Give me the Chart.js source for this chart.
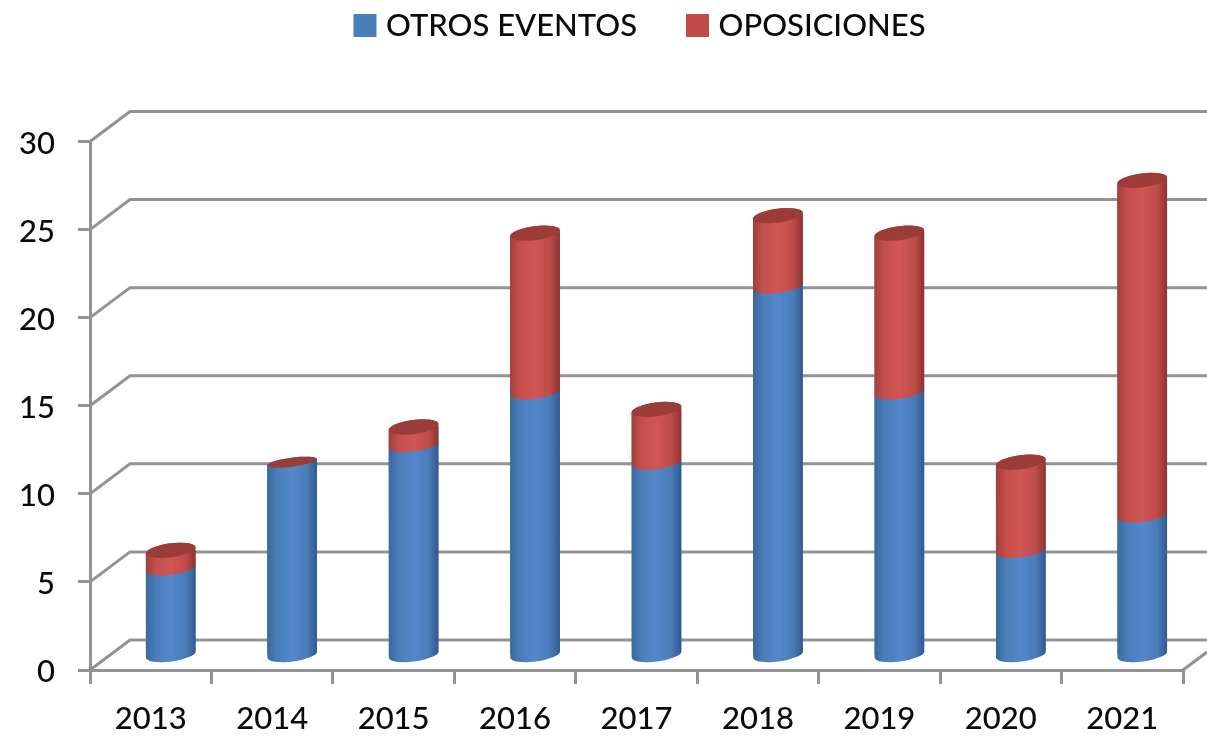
<!DOCTYPE html>
<html>
<head>
<meta charset="utf-8">
<style>
  html, body { margin: 0; padding: 0; background: #fff; overflow: hidden; }
  canvas { display: block; filter: blur(0.5px); }
</style>
</head>
<body>
<canvas id="grafica" width="1207" height="736"></canvas>
<script src="https://cdn.jsdelivr.net/npm/chart.js@4"></script>
<script>
const anios = ['2013', '2014', '2015', '2016', '2017', '2018', '2019', '2020', '2021'];
const otrosEventos = [5, 11, 12, 15, 11, 21, 15, 6, 8];
const oposiciones = [1, 0, 1, 9, 3, 4, 9, 5, 19];

const AZUL = ['#3a689f', '#4a7db9', '#5288cb', '#4a7cb8', '#2f5a8e'];
const ROJO = ['#a23e3b', '#c44f4c', '#d05653', '#bd4c49', '#8b3432'];
const LEYENDA = ['#4a7ebb', '#be4b48'];
const GRIS = '#939393';
const TEXTO = '#0a0a0a';
const FUENTE = { family: 'Lato', size: 31, weight: '500' };
const DX = 40, DY = 30;      // profundidad del piso
const BX = 20, BY = -14;     // las barras van en el plano medio
const ANCHO = 50, RY = 7, GIRO = -0.13;

function gradiente(c, x, tonos) {
  const g = c.createLinearGradient(x - ANCHO / 2, 0, x + ANCHO / 2, 0);
  [0, 0.2, 0.5, 0.8, 1].forEach((p, i) => g.addColorStop(p, tonos[i]));
  return g;
}

function relleno(tonos) {
  return function (ctx) {
    if (ctx.type !== 'data' || !ctx.chart.chartArea) return tonos[1];
    return gradiente(ctx.chart.ctx, ctx.chart.scales.x.getPixelForValue(ctx.dataIndex), tonos);
  };
}

// tramo de cilindro: arco superior en "arriba", arco inferior en "abajo"
function tramo(c, x, arriba, abajo, ryArriba) {
  c.ellipse(x, arriba, ANCHO / 2, ryArriba, GIRO, Math.PI, Math.PI * 2);
  c.ellipse(x, abajo, ANCHO / 2, RY, GIRO, 0, Math.PI);
  c.closePath();
}

const ryTapa = i => (oposiciones[i] > 0 ? RY : 4.5);

const fondo3d = {
  id: 'fondo3d',
  beforeInit(chart) {
    // reserva el alto hasta el eje
    const fit = chart.legend.fit;
    chart.legend.fit = function () {
      fit.call(chart.legend);
      this.height = 141.5;
    };
  },
  afterLayout(chart) {
    chart.legend.left += 51;
    chart.legend.right += 51;
    chart.legend.top -= 45;
  },
  beforeDatasetsDraw(chart) {
    const c = chart.ctx, a = chart.chartArea, y = chart.scales.y;
    c.save();
    c.strokeStyle = GRIS;
    c.lineWidth = 3;
    y.ticks.forEach(t => {
      const py = y.getPixelForValue(t.value);
      c.beginPath();
      c.moveTo(a.left, py);
      c.lineTo(a.left + DX, py - DY);
      c.lineTo(chart.width, py - DY);
      c.stroke();
    });
    c.beginPath();
    c.moveTo(a.right, a.bottom);
    c.lineTo(chart.width, a.bottom - 18);
    c.stroke();
    c.restore();

    // las esquinas rectas de las barras no deben asomar
    const azul = chart.getDatasetMeta(0).data;
    const rojo = chart.getDatasetMeta(1).data;
    c.save();
    c.translate(BX, BY);
    c.beginPath();
    azul.forEach((b, i) => {
      c.moveTo(b.x - ANCHO / 2, rojo[i].y);
      tramo(c, b.x, rojo[i].y, b.base, ryTapa(i));
    });
    c.clip();
  },
  afterDatasetsDraw(chart) {
    const c = chart.ctx;
    const azul = chart.getDatasetMeta(0).data;
    const rojo = chart.getDatasetMeta(1).data;
    c.restore();
    c.save();
    c.translate(BX, BY);
    azul.forEach((b, i) => {
      const r = rojo[i];
      c.fillStyle = gradiente(c, b.x, AZUL);
      c.beginPath();
      tramo(c, b.x, b.y, b.base, ryTapa(i));
      c.fill();
      if (oposiciones[i] > 0) {
        c.fillStyle = gradiente(c, r.x, ROJO);
        c.beginPath();
        tramo(c, r.x, r.y, r.base, RY);
        c.fill();
      }
      c.fillStyle = '#9c3c39';
      c.beginPath();
      c.ellipse(r.x, r.y, ANCHO / 2, ryTapa(i), GIRO, 0, Math.PI * 2);
      c.fill();
    });
    c.restore();
  }
};

new Chart(document.getElementById('grafica'), {
  type: 'bar',
  plugins: [fondo3d],
  data: {
    labels: anios,
    datasets: [
      { label: 'OTROS EVENTOS', data: otrosEventos, backgroundColor: relleno(AZUL), clip: false },
      { label: 'OPOSICIONES', data: oposiciones, backgroundColor: relleno(ROJO), clip: false }
    ]
  },
  options: {
    responsive: false,
    animation: false,
    barThickness: ANCHO,
    layout: { padding: { right: 24 } },
    plugins: {
      tooltip: { enabled: false },
      legend: {
        position: 'top',
        labels: {
          color: TEXTO,
          font: FUENTE,
          boxWidth: 11,
          boxHeight: 11,
          padding: 55,
          generateLabels(chart) {
            return Chart.defaults.plugins.legend.labels.generateLabels(chart).map((item, i) => {
              item.fillStyle = LEYENDA[i];
              item.strokeStyle = LEYENDA[i];
              item.lineWidth = 12;
              return item;
            });
          }
        }
      }
    },
    scales: {
      x: {
        stacked: true,
        afterFit(scale) { scale.height = 66; },
        border: { color: GRIS, width: 3 },
        grid: { color: GRIS, lineWidth: 3, drawOnChartArea: false, tickLength: 14 },
        ticks: { color: TEXTO, font: FUENTE, padding: 16, maxRotation: 0 }
      },
      y: {
        stacked: true,
        min: 0,
        max: 30,
        afterFit(scale) { scale.width = 90; },
        border: { color: GRIS, width: 3 },
        grid: { color: GRIS, lineWidth: 3, drawOnChartArea: false, tickLength: 12 },
        ticks: { color: TEXTO, font: FUENTE, padding: 23, stepSize: 5, labelOffset: 2 }
      }
    }
  }
});
</script>
</body>
</html>
